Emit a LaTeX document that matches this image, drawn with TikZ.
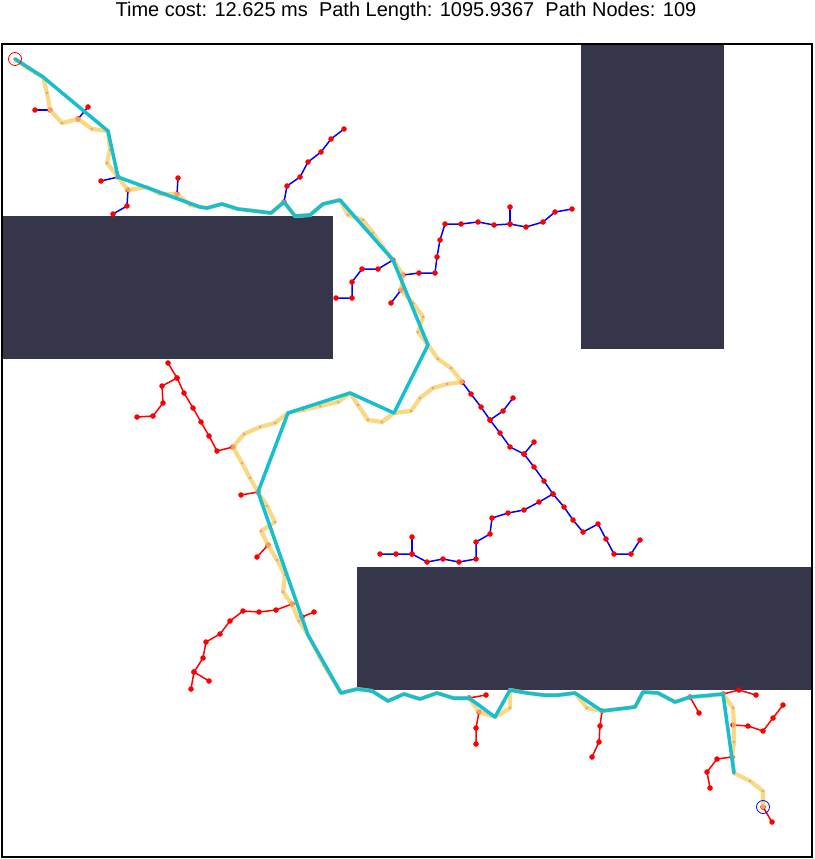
\documentclass[tikz,border=0pt]{standalone}
\usepackage{fontspec}
\setmainfont{Liberation Sans}
\usetikzlibrary{positioning}
\definecolor{obstaclecol}{RGB}{54,54,74}
\definecolor{smoothcol}{RGB}{23,190,207}
\definecolor{rawcol}{RGB}{247,208,101}
\definecolor{rawdot}{RGB}{245,150,130}

\begin{document}
\begin{tikzpicture}[x=1pt, y=-1pt,
        obstacle/.style={fill=obstaclecol, draw=none},
        starttree/.style={blue, line width=1.5pt, line join=round, mark=*, mark size=2.6pt, mark options={draw=red, fill=red, line width=0.2pt}},
        goaltree/.style={red, line width=1.5pt, line join=round, mark=*, mark size=2.6pt, mark options={draw=red, fill=red, line width=0.2pt}},
        rawpath/.style={rawcol, opacity=0.8, line width=4.2pt, line join=round, line cap=round, mark=*, mark size=1.2pt, mark options={draw=rawdot, fill=rawdot, line width=0.2pt, opacity=1}},
        smoothpath/.style={smoothcol, line width=3.5pt, line join=round, line cap=round}
    ]
    \useasboundingbox (0,0) rectangle (814,859);
    \node[font=\fontsize{20}{24}\selectfont, anchor=base] (title) at (406,17) {Time cost: 12.625 ms\ \ Path Length: 1095.9367\ \ Path Nodes: 109};
    % Obstacles
    \fill[obstacle] (2,216) rectangle (333,359);
    \fill[obstacle] (581,44) rectangle (724,349);
    \fill[obstacle] (357,567) rectangle (812,690);
    % Start tree
    \draw[starttree] plot coordinates {(50,110) (35,110)};
    \draw[starttree] plot coordinates {(78,119) (88,107)};
    \draw[starttree] plot coordinates {(118,177) (101,181)};
    \draw[starttree] plot coordinates {(128,190) (127,206) (113,214)};
    \draw[starttree] plot coordinates {(177,194) (178,178)};
    \draw[starttree] plot coordinates {(284,202) (287,186) (300,177) (308,162) (321,152) (331,139) (344,129)};
    \draw[starttree] plot coordinates {(393,260) (378,269) (362,269) (352,282) (352,298) (336,298)};
    \draw[starttree] plot coordinates {(403,275) (419,273) (435,273) (437,257) (440,240) (445,224) (461,224) (478,222) (494,225) (510,224) (526,227) (543,222) (555,212) (572,209)};
    \draw[starttree] plot coordinates {(510,224) (510,207)};
    \draw[starttree] plot coordinates {(401,290) (391,303)};
    \draw[starttree] plot coordinates {(462,382) (471,394) (481,407) (490,420) (500,433) (510,447) (524,454) (534,467) (544,481) (553,494) (564,507) (573,520) (583,532) (598,524) (606,539) (614,554) (631,554) (640,540)};
    \draw[starttree] plot coordinates {(490,420) (503,411) (513,398)};
    \draw[starttree] plot coordinates {(524,454) (534,442)};
    \draw[starttree] plot coordinates {(553,494) (539,502) (524,510) (508,513) (492,518) (490,534) (476,542) (476,559) (459,562) (443,559) (427,562) (412,554) (396,554) (380,554)};
    \draw[starttree] plot coordinates {(412,554) (412,537)};
    % Goal tree
    \draw[goaltree] plot coordinates {(233,447) (217,451) (209,436) (201,422) (193,408) (184,393) (177,378) (168,363)};
    \draw[goaltree] plot coordinates {(177,378) (162,386) (163,403) (153,416) (137,417)};
    \draw[goaltree] plot coordinates {(258,492) (241,495)};
    \draw[goaltree] plot coordinates {(268,545) (257,557)};
    \draw[goaltree] plot coordinates {(292,604) (276,610) (259,612) (243,611) (230,621) (220,634) (206,642) (203,658) (194,672) (191,689)};
    \draw[goaltree] plot coordinates {(194,672) (209,681)};
    \draw[goaltree] plot coordinates {(302,617) (314,612)};
    \draw[goaltree] plot coordinates {(469,698) (486,695)};
    \draw[goaltree] plot coordinates {(479,712) (476,728) (476,744)};
    \draw[goaltree] plot coordinates {(602,711) (600,726) (599,742) (592,757)};
    \draw[goaltree] plot coordinates {(690,697) (699,713)};
    \draw[goaltree] plot coordinates {(723,694) (739,690) (756,695)};
    \draw[goaltree] plot coordinates {(733,725) (748,726) (763,731) (773,718) (783,705)};
    \draw[goaltree] plot coordinates {(732,757) (717,759) (707,772) (710,788)};
    \draw[goaltree] plot coordinates {(763,807) (772,822)};
    % Raw path
    \draw[rawpath] plot coordinates {(15,59) (27,68) (43,77) (47,93) (50,110) (62,123) (78,119) (92,129) (108,131) (110,150) (107,163) (118,177) (128,190) (147,187) (160,194) (177,194) (190,205) (200,207) (207,208) (222,204) (238,209) (255,211) (271,213) (284,202) (295,216) (310,215) (323,204) (340,200) (348,215) (363,220) (373,233) (383,247) (393,260) (403,275) (401,290) (413,303) (423,317) (418,332) (428,345) (438,359) (451,368) (462,382) (447,384) (433,388) (420,398) (411,411) (394,413) (382,422) (368,420) (358,405) (350,393) (338,402) (320,406) (303,410) (288,413) (275,423) (260,427) (244,434) (233,447) (242,463) (250,478) (258,492) (267,506) (275,522) (261,531) (268,545) (277,560) (285,575) (283,592) (292,604) (299,621) (308,635) (316,650) (324,665) (333,680) (341,693) (357,689) (372,691) (388,701) (404,694) (420,699) (437,693) (453,698) (469,698) (479,712) (495,717) (510,708) (510,690) (527,693) (543,695) (559,695) (575,693) (587,708) (602,711) (618,709) (635,707) (643,692) (658,693) (675,702) (690,697) (707,696) (723,694) (733,708) (734,725) (734,742) (732,757) (734,773) (750,781) (763,791) (763,807)};
    % Smoothed path
    \draw[smoothpath] plot coordinates {(15,59) (43,77) (108,131) (118,177) (200,207) (207,208) (222,204) (238,209) (255,211) (271,213) (284,202) (295,216) (310,215) (323,204) (340,200) (393,260) (428,345) (394,413) (350,393) (288,413) (258,492) (308,635) (341,693) (357,689) (372,691) (388,701) (404,694) (420,699) (437,693) (453,698) (469,698) (495,717) (510,690) (527,693) (543,695) (559,695) (575,693) (602,711) (635,707) (643,692) (658,693) (675,702) (690,697) (723,694) (734,773)};
    % Start and goal
    \coordinate (start) at (15,59);
    \coordinate (goal) at (763,807);
    \draw[red, line width=0.8pt] (start) circle (6.5pt);
    \draw[blue, line width=0.8pt] (goal) circle (6.5pt);
    % Frame
    \draw[line width=1.3pt] (2,44) rectangle (812,857);
\end{tikzpicture}
\end{document}
